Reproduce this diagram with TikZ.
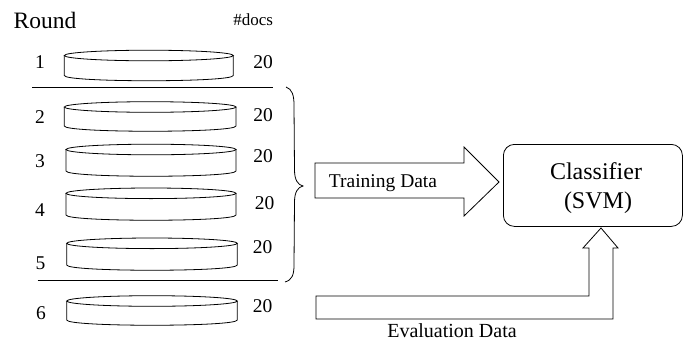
\documentclass[tikz,border=0pt]{standalone}
\usepackage{fontspec}
\setmainfont{Liberation Serif}
\begin{document}
\begin{tikzpicture}[x=1pt,y=-1pt,line width=0.8pt,
  lbl/.style={anchor=base,inner sep=0pt,font=\fontsize{19.5}{20}\selectfont},
  ttl/.style={anchor=base west,inner sep=0pt},
  blockarrow/.style={draw,line join=miter}]
\useasboundingbox (0,0) rectangle (683,343);
% headers
\node[ttl,font=\fontsize{23.5}{24}\selectfont] (round) at (13.3,28.3) {Round};
\node[ttl,font=\fontsize{17}{18}\selectfont] (docs) at (233,25) {\#docs};
% row labels and counts
\node[lbl] (r1) at (40,68) {1};
\node[lbl] (r2) at (40,123) {2};
\node[lbl] (r3) at (40,167) {3};
\node[lbl] (r4) at (40,216.7) {4};
\node[lbl] (r5) at (40.5,269) {5};
\node[lbl] (r6) at (41,319) {6};
\node[lbl] (c1) at (263,68) {20};
\node[lbl] (c2) at (263,121.7) {20};
\node[lbl] (c3) at (263,162) {20};
\node[lbl] (c4) at (264.7,209.3) {20};
\node[lbl] (c5) at (262.5,253.3) {20};
\node[lbl] (c6) at (262.5,312.3) {20};
% disks
\foreach \xl/\xr/\yt/\yb in {64.3/233.3/55.5/75.5, 64.3/236/107/126, 66/236/149.5/171,
   66/236/193.3/215, 66.7/237.3/243.3/265, 66.7/237.3/301/320}{
  \pgfmathsetmacro{\cx}{(\xl+\xr)/2}
  \pgfmathsetmacro{\rx}{(\xr-\xl)/2}
  \draw[fill=white] (\xl,\yt) -- (\xl,\yb) .. controls (\xl,\yb+7) and (\xr,\yb+7) .. (\xr,\yb) -- (\xr,\yt);
  \draw (\cx,\yt) ellipse [x radius=\rx, y radius=5.3];
}
% separators
\draw (32.3,87.7) -- (273.3,87.7);
\draw (37.7,280.7) -- (278.3,280.7);
% brace
\draw (286,87) .. controls (292,89) and (294,95) .. (294,105) -- (294.5,170)
  .. controls (294.5,180) and (298,185) .. (303,186)
  .. controls (298,187) and (294.5,192) .. (294.5,202) -- (294,265)
  .. controls (294,275) and (292,280) .. (285,282);
% classifier
\node[draw,rounded corners=11pt,minimum width=179pt,minimum height=82pt,anchor=north west,inner sep=0pt] (clf) at (503,144) {};
\node[lbl,font=\fontsize{24}{26}\selectfont] (clfa) at (596,179) {Classifier};
\node[lbl,font=\fontsize{24}{26}\selectfont] (clfb) at (598,208.3) {(SVM)};
% training arrow
\draw[blockarrow] (315,163) -- (464,163) -- (464,147) -- (499,182) -- (464,216) -- (464,198) -- (315,198) -- cycle;
\node[lbl] (train) at (383,187.7) {Training Data};
% evaluation arrow
\draw[blockarrow] (316,296) -- (589,296) -- (589,248) -- (583,248) -- (601,228) -- (618,248) -- (613,248) -- (613,319) -- (316,319) -- cycle;
\node[lbl,font=\fontsize{20}{21}\selectfont] (eval) at (452,337.7) {Evaluation Data};
\end{tikzpicture}
\end{document}
